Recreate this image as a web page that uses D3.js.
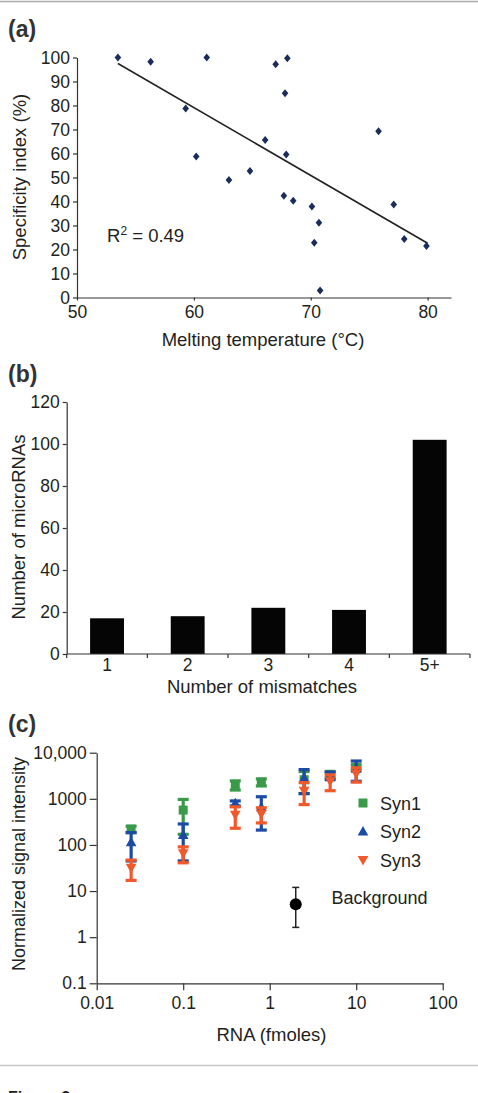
<!DOCTYPE html>
<html>
<head>
<meta charset="utf-8">
<script src="https://cdn.jsdelivr.net/npm/d3@7"></script>
<style>
  html, body { margin: 0; padding: 0; background: #fff; }
  svg { display: block; font-family: "Liberation Sans", Arial, Helvetica, sans-serif; }
</style>
</head>
<body>
<svg id="chart" width="478" height="1093"></svg>
<script>
// ---------- Panel (a) data ----------
const meltTemp = [53.5, 56.3, 61.1, 67.0, 68.0, 67.8, 59.3, 60.2, 63.0, 64.8, 66.1, 67.9, 75.8,
                  67.7, 68.5, 70.1, 70.7, 70.3, 70.8, 77.1, 78.0, 79.9];
const specIndex = [100, 98.2, 100, 97.2, 99.7, 85.1, 78.8, 58.7, 49, 52.7, 65.6, 59.6, 69.3,
                   42.4, 40.3, 37.9, 31.1, 22.8, 2.9, 38.7, 24.4, 21.5];
const trendX = [53.5, 80];
const trendY = [97.5, 22.6];
const aYTicks = [0, 10, 20, 30, 40, 50, 60, 70, 80, 90, 100];
const aXTicks = [50, 60, 70, 80];

// ---------- Panel (b) data ----------
const mismatchCats = ["1", "2", "3", "4", "5+"];
const microRNACounts = [17, 18, 22, 21, 102];
const bYTicks = [0, 20, 40, 60, 80, 100, 120];

// ---------- Panel (c) data ----------
const rnaAmount = [0.025, 0.1, 0.4, 0.8, 2.5, 5, 10];
const syn1 = [220, 570, 2000, 2300, 2600, 3400, 4800];
const syn1Sd = [35, 400, 450, 400, 1300, 500, 700];
const syn2 = [115, 165, 800, 660, 2800, 3200, 4500];
const syn2Sd = [70, 120, 100, 450, 1500, 600, 2100];
const syn3 = [32, 66, 450, 470, 1500, 2400, 3500];
const syn3Sd = [15, 25, 220, 170, 750, 900, 1200];
const bgAmount = [2];
const bgValue = [5.2];
const bgLow = [1.63];
const bgHigh = [12];
const cYTicks = [0.1, 1, 10, 100, 1000, 10000];
const cYTickLabels = ["0.1", "1", "10", "100", "1000", "10,000"];
const cXTicks = [0.01, 0.1, 1, 10, 100];
const cXTickLabels = ["0.01", "0.1", "1", "10", "100"];
const seriesNames = ["Syn1", "Syn2", "Syn3"];
const seriesColors = ["#3a9a48", "#1c4ba6", "#f2592a"];

const TXT = "#231f20";
const AX = "#333";
const TICK_FS = 17.5;
const TITLE_FS = 18.5;
const svg = d3.select("#chart");

// separator lines & figure caption
svg.append("line").attr("x1", 0).attr("x2", 478).attr("y1", 1.5).attr("y2", 1.5)
  .attr("stroke", "#aaa").attr("stroke-width", 1.5);
svg.append("line").attr("x1", 0).attr("x2", 478).attr("y1", 1065.5).attr("y2", 1065.5)
  .attr("stroke", "#c8c8c8").attr("stroke-width", 1.5);
svg.append("text").attr("x", 8).attr("y", 1103).attr("font-size", 16).attr("font-weight", "bold")
  .attr("fill", TXT).text("Figure 3");

function panelLabel(t, y) {
  svg.append("text").attr("x", 8).attr("y", y).attr("font-size", 23).attr("font-weight", "bold")
    .attr("fill", "#333").text(t);
}
function styleAxis(g, fs) {
  g.attr("font-family", null);
  g.select(".domain").attr("stroke", AX).attr("stroke-width", 1.2);
  g.selectAll(".tick line").attr("stroke", AX).attr("stroke-width", 1.2);
  g.selectAll(".tick text").attr("fill", TXT).attr("font-size", fs);
}

// ================= Panel (a) =================
panelLabel("(a)", 37);
const ax = d3.scaleLinear().domain([50, 82]).range([77, 451]);
const ay = d3.scaleLinear().domain([0, 100]).range([297.5, 57.5]);

const gaY = svg.append("g").attr("transform", "translate(77,0)")
  .call(d3.axisLeft(ay).tickValues(aYTicks).tickSize(4).tickPadding(3).tickSizeOuter(0));
styleAxis(gaY, TICK_FS);
const gaX = svg.append("g").attr("transform", "translate(0,297.5)")
  .call(d3.axisBottom(ax).tickValues(aXTicks).tickSize(3).tickPadding(5).tickSizeOuter(0));
styleAxis(gaX, TICK_FS);

svg.append("line")
  .attr("x1", ax(trendX[0])).attr("y1", ay(trendY[0]))
  .attr("x2", ax(trendX[1])).attr("y2", ay(trendY[1]))
  .attr("stroke", "#222").attr("stroke-width", 1.6);

const diamond = "M0,-4L3.3,0L0,4L-3.3,0Z";
svg.append("g").selectAll("path").data(meltTemp).join("path")
  .attr("d", diamond)
  .attr("transform", (d, i) => `translate(${ax(d)},${ay(specIndex[i])})`)
  .attr("fill", "#1b2b5c");

const r2 = svg.append("text").attr("x", 107).attr("y", 242).attr("font-size", 18.5).attr("fill", TXT);
r2.append("tspan").text("R");
r2.append("tspan").attr("font-size", 12).attr("dy", -7).text("2");
r2.append("tspan").attr("dy", 7).text(" = 0.49");

svg.append("text").attr("transform", "translate(26,177) rotate(-90)").attr("text-anchor", "middle")
  .attr("font-size", TITLE_FS).attr("fill", TXT).text("Specificity index (%)");
svg.append("text").attr("x", 263).attr("y", 346).attr("text-anchor", "middle")
  .attr("font-size", TITLE_FS).attr("fill", TXT).text("Melting temperature (°C)");

// ================= Panel (b) =================
panelLabel("(b)", 382);
const bx = d3.scaleBand().domain(mismatchCats).range([66.7, 470]).paddingInner(0.58).paddingOuter(0.29);
const bxTicks = d3.scaleBand().domain(mismatchCats).range([66.7, 470]);
const by = d3.scaleLinear().domain([0, 120]).range([654, 402]);

svg.append("g").selectAll("rect").data(microRNACounts).join("rect")
  .attr("x", (d, i) => bx(mismatchCats[i]))
  .attr("width", bx.bandwidth())
  .attr("y", d => by(d))
  .attr("height", d => by(0) - by(d))
  .attr("fill", "#050505");

const gbY = svg.append("g").attr("transform", "translate(66.7,0)")
  .call(d3.axisLeft(by).tickValues(bYTicks).tickSize(4).tickPadding(3).tickSizeOuter(0));
styleAxis(gbY, TICK_FS);
const gbX = svg.append("g").attr("transform", "translate(0,654)");
gbX.append("line").attr("x1", 66.7).attr("x2", 470).attr("stroke", AX).attr("stroke-width", 1.2);
const boundaries = mismatchCats.map(c => bxTicks(c)).concat([470]);
gbX.selectAll("line.tk").data(boundaries).join("line").attr("class", "tk")
  .attr("x1", d => d).attr("x2", d => d).attr("y1", 0).attr("y2", 4)
  .attr("stroke", AX).attr("stroke-width", 1.2);
gbX.selectAll("text").data(mismatchCats).join("text")
  .attr("x", d => bxTicks(d) + bxTicks.bandwidth() / 2).attr("y", 17)
  .attr("text-anchor", "middle").attr("font-size", TICK_FS).attr("fill", TXT).text(d => d);

svg.append("text").attr("transform", "translate(25,527) rotate(-90)").attr("text-anchor", "middle")
  .attr("font-size", TITLE_FS).attr("fill", TXT).text("Number of microRNAs");
svg.append("text").attr("x", 262).attr("y", 692.5).attr("text-anchor", "middle")
  .attr("font-size", TITLE_FS).attr("fill", TXT).text("Number of mismatches");

// ================= Panel (c) =================
panelLabel("(c)", 732);
const cx = d3.scaleLog().domain([0.01, 100]).range([96.7, 442.7]);
const cy = d3.scaleLog().domain([0.1, 10000]).range([983.3, 752.7]);

const gcY = svg.append("g").attr("transform", "translate(96.7,0)")
  .call(d3.axisLeft(cy).tickValues(cYTicks).tickFormat((d, i) => cYTickLabels[i])
    .tickSize(7).tickPadding(3).tickSizeOuter(0));
styleAxis(gcY, TICK_FS);
const gcX = svg.append("g").attr("transform", "translate(0,983.3)")
  .call(d3.axisBottom(cx).tickValues(cXTicks).tickFormat((d, i) => cXTickLabels[i])
    .tickSize(7).tickPadding(6).tickSizeOuter(0));
styleAxis(gcX, TICK_FS);

const seriesVals = [syn1, syn2, syn3];
const seriesSd = [syn1Sd, syn2Sd, syn3Sd];
const symbols = [
  "M-4.5,-4.5H4.5V4.5H-4.5Z",
  "M0,-5.5L5.3,4H-5.3Z",
  "M0,5.5L5.3,-4H-5.3Z"
];
function clampLow(v) { return Math.max(v, 0.11); }

seriesVals.forEach((vals, s) => {
  const g = svg.append("g");
  const col = seriesColors[s];
  const sd = seriesSd[s];
  vals.forEach((v, i) => {
    const x = cx(rnaAmount[i]);
    const yTop = cy(v + sd[i]);
    const yBot = cy(clampLow(v - sd[i]));
    g.append("line").attr("x1", x).attr("x2", x).attr("y1", yTop).attr("y2", yBot)
      .attr("stroke", col).attr("stroke-width", 3.2);
    [yTop, yBot].forEach(yy => g.append("line").attr("x1", x - 5.5).attr("x2", x + 5.5)
      .attr("y1", yy).attr("y2", yy).attr("stroke", col).attr("stroke-width", 3.2));
    g.append("path").attr("d", symbols[s]).attr("transform", `translate(${x},${cy(v)})`).attr("fill", col);
  });
});

// background point
bgValue.forEach((v, i) => {
  const x = cx(bgAmount[i]);
  svg.append("line").attr("x1", x).attr("x2", x).attr("y1", cy(bgHigh[i])).attr("y2", cy(bgLow[i]))
    .attr("stroke", "#222").attr("stroke-width", 1.5);
  [bgHigh[i], bgLow[i]].forEach(e => svg.append("line").attr("x1", x - 3.5).attr("x2", x + 3.5)
    .attr("y1", cy(e)).attr("y2", cy(e)).attr("stroke", "#222").attr("stroke-width", 1.5));
  svg.append("circle").attr("cx", x).attr("cy", cy(v)).attr("r", 6).attr("fill", "#000");
});

// legend
const legY = [803, 831.5, 860];
seriesNames.forEach((n, s) => {
  svg.append("path").attr("d", symbols[s]).attr("transform", `translate(363,${legY[s]})`)
    .attr("fill", seriesColors[s]);
  svg.append("text").attr("x", 380).attr("y", legY[s] + 6.5).attr("font-size", 18).attr("fill", TXT).text(n);
});
svg.append("text").attr("x", 331.5).attr("y", 903.5).attr("font-size", 18).attr("fill", TXT).text("Background");

svg.append("text").attr("transform", "translate(25,864) rotate(-90)").attr("text-anchor", "middle")
  .attr("font-size", 18).attr("fill", TXT).text("Normalized signal intensity");
svg.append("text").attr("x", 271.5).attr("y", 1041).attr("text-anchor", "middle")
  .attr("font-size", TITLE_FS).attr("fill", TXT).text("RNA (fmoles)");
</script>
</body>
</html>
